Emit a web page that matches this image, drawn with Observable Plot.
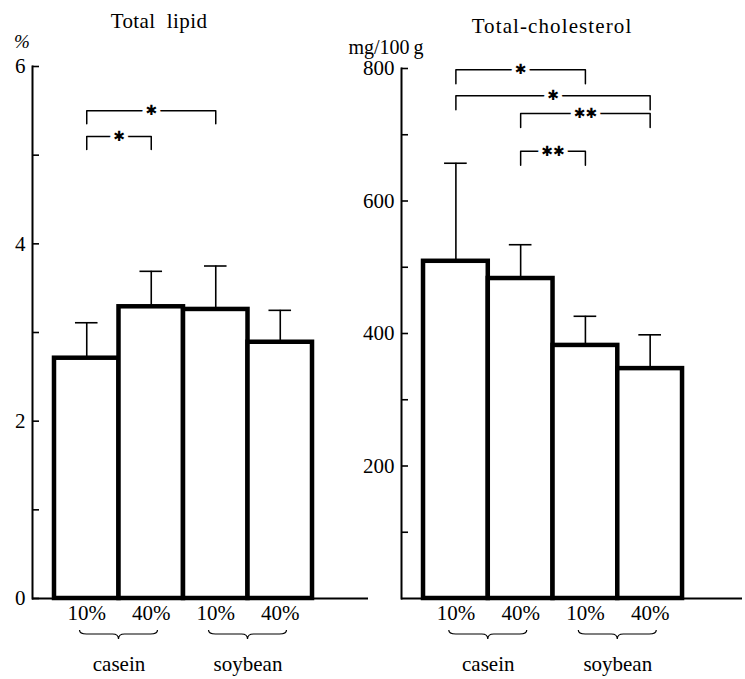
<!DOCTYPE html>
<html><head><meta charset="utf-8">
<script src="https://cdn.jsdelivr.net/npm/d3@7"></script>
<script src="https://cdn.jsdelivr.net/npm/@observablehq/plot@0.6"></script>
<style>
body{margin:0;background:#fff;}
#wrap{position:relative;width:745px;height:679px;overflow:hidden;background:#fff;}
.panel{position:absolute;top:0;}
.lbl{position:absolute;white-space:pre;font-family:"Liberation Serif",serif;color:#000;transform:translate(-50%,-50%);line-height:1;}
</style></head><body><div id="wrap"></div>
<script>
// ---- data ----
const categories = ["casein 10%","casein 40%","soybean 10%","soybean 40%"];
const levelLabels = ["10%","40%","10%","40%"];
const groups = ["casein","soybean"];

const lipidMean = [2.71, 3.29, 3.26, 2.89];
const lipidSD   = [0.40, 0.40, 0.49, 0.36];
const lipidTicks = [0, 2, 4, 6];
const lipidMinor = [1, 3, 5];
const lipidSig = [
  {from:"casein 10%", to:"soybean 10%", level:5.50, label:"*"},
  {from:"casein 10%", to:"casein 40%",  level:5.21, label:"*"}
];

const cholMean = [509, 483, 382, 347];
const cholSD   = [148, 51, 44, 51];
const cholTicks = [200, 400, 600, 800];
const cholMinor = [100, 300, 500, 700];
const cholSig = [
  {from:"casein 10%", to:"soybean 10%", level:798, label:"*"},
  {from:"casein 10%", to:"soybean 40%", level:759, label:"*"},
  {from:"casein 40%", to:"soybean 40%", level:732, label:"**"},
  {from:"casein 40%", to:"soybean 10%", level:675, label:"**"}
];

const FONT = '"Liberation Serif", "DejaVu Serif", serif';

function braceMark(halfPx, offPx) {
  return (index, scales) => {
    const g = d3.create("svg:g").attr("fill","none").attr("stroke","black").attr("stroke-width",1.2);
    groups.forEach((name, k) => {
      const cx = scales.x(2*k + 1);
      const y0 = scales.y(0) + offPx;
      const h = halfPx;
      const p = `M${cx-h},${y0} Q${cx-h},${y0+4} ${cx-h+7},${y0+4} L${cx-6},${y0+4} Q${cx},${y0+4} ${cx},${y0+9} Q${cx},${y0+4} ${cx+6},${y0+4} L${cx+h-7},${y0+4} Q${cx+h},${y0+4} ${cx+h},${y0}`;
      g.append("path").attr("d", p);
    });
    return g.node();
  };
}

function panel(o) {
  const table = categories.map((c, i) => ({c, i, level: levelLabels[i], mean: o.mean[i], sd: o.sd[i]}));
  const idx = c => categories.indexOf(c);
  const ppu = (679 - o.marginTop - 81) / o.domain[1];
  const drop = o.legPx / ppu;
  const sigPts = [];
  o.sig.forEach((s, k) => {
    const x1 = idx(s.from) + 0.5, x2 = idx(s.to) + 0.5;
    sigPts.push({k, x: x1, y: s.level - drop}, {k, x: x1, y: s.level}, {k, x: x2, y: s.level}, {k, x: x2, y: s.level - drop});
  });
  const sigTxt = o.sig.map(s => ({x: (idx(s.from) + idx(s.to)) / 2 + 0.5, y: s.level, t: s.label.replace(/\*/g, "\u2731")}));
  const cap = 0.175;
  return Plot.plot({
    width: o.width, height: 679,
    marginLeft: o.marginLeft, marginRight: o.marginRight, marginTop: o.marginTop, marginBottom: 81,
    style: {fontFamily: FONT, fontSize: "21px", color: "black", background: "white", overflow: "visible"},
    x: {domain: o.xdomain, axis: null},
    y: {domain: o.domain, axis: null},
    marks: [
      Plot.axisY({ticks: [...o.ticks, ...o.minor], tickSize: 7, dx: 7, tickFormat: () => "", strokeWidth: 1.6}),
      Plot.axisY({ticks: o.ticks, tickSize: 0, tickPadding: 7, fontSize: 21, tickFormat: d => String(d)}),
      Plot.rect(table, {x1: "i", x2: d => d.i + 1, y1: 0, y2: "mean", fill: "white", stroke: "black", strokeWidth: 4.5}),
      Plot.ruleX(table, {x: d => d.i + 0.5, y1: "mean", y2: d => d.mean + d.sd, strokeWidth: 1.6}),
      Plot.ruleY(table, {y: d => d.mean + d.sd, x1: d => d.i + 0.5 - cap, x2: d => d.i + 0.5 + cap, strokeWidth: 1.6}),
      Plot.frame({anchor: "left", strokeWidth: 2}),
      Plot.ruleY([0], {strokeWidth: 2}),
      Plot.line(sigPts, {x: "x", y: "y", z: "k", stroke: "black", strokeWidth: 1.5}),
      Plot.text(sigTxt, {x: "x", y: "y", text: "t", fontSize: 14, fontFamily: "DejaVu Sans", fill: "black", stroke: "white", strokeWidth: 8, paintOrder: "stroke"}),
      Plot.text(table, {x: d => d.i + 0.5, y: 0, text: "level", dy: 15, fontSize: 21}),
      Plot.text(groups, {x: (d, k) => 2*k + 1, y: 0, text: d => d, dy: 66, fontSize: 21}),
      braceMark(39, 32)
    ]
  });
}

const wrap = document.getElementById("wrap");
const left = panel({mean: lipidMean, sd: lipidSD, ticks: lipidTicks, minor: lipidMinor, sig: lipidSig,
  domain: [0, 6], width: 372, marginLeft: 32, marginRight: 4, marginTop: 66, xdomain: [-0.341, 4.868], legPx: 13});
left.classList.add("panel"); left.style.left = "0px";
wrap.appendChild(left);
const right = panel({mean: cholMean, sd: cholSD, ticks: cholTicks, minor: cholMinor, sig: cholSig,
  domain: [0, 800], width: 373, marginLeft: 29, marginRight: 3, marginTop: 68, xdomain: [-0.34, 4.926], legPx: 14});
right.classList.add("panel"); right.style.left = "372px";
wrap.appendChild(right);

function addLabel(text, x, y, size, extra) {
  const d = document.createElement("div");
  d.className = "lbl"; d.textContent = text;
  d.style.left = x + "px"; d.style.top = y + "px"; d.style.fontSize = size + "px";
  Object.assign(d.style, extra || {});
  wrap.appendChild(d);
}
addLabel("Total  lipid", 159, 21, 21, {letterSpacing: "0.4px"});
addLabel("Total-cholesterol", 552, 26, 21, {letterSpacing: "1.1px"});
addLabel("%", 22, 41, 19, {fontStyle: "italic"});
addLabel("mg/100\u2009g", 386, 47, 20);
</script></body></html>
